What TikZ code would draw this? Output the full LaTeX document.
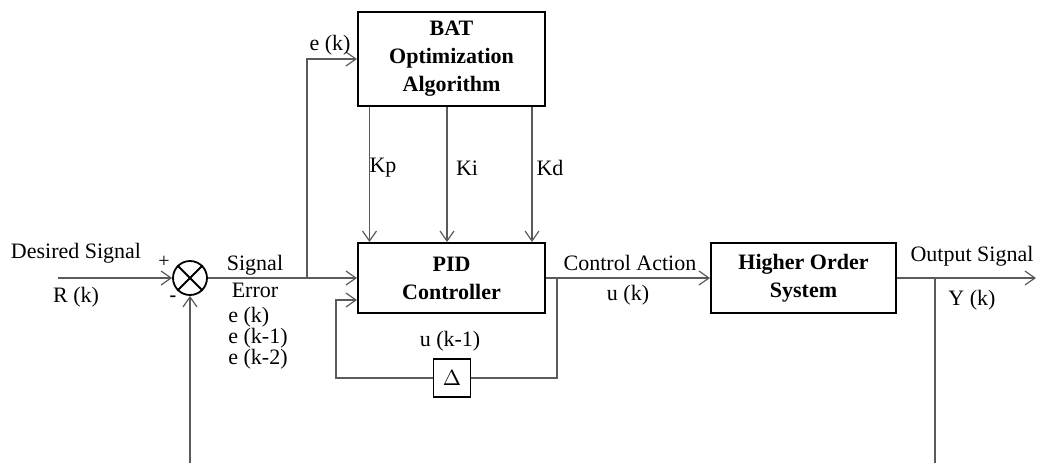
\documentclass[tikz,border=0pt]{standalone}
\usepackage{fontspec}
\setmainfont{Liberation Serif}
\usetikzlibrary{positioning, arrows.meta, calc}
\definecolor{wireGray}{HTML}{5A5A5A}

\begin{document}
\begin{tikzpicture}[x=0.5pt, y=-0.5pt,
  font=\fontsize{11}{14}\selectfont,
  blk/.style={draw, line width=1pt, align=center, font=\fontsize{11}{14}\selectfont\bfseries, minimum width=93.5pt, minimum height=35pt},
  wire/.style={draw=wireGray, line width=0.6pt},
  arr/.style={wire, -{Straight Barb[length=5pt, width=7pt]}},
  lbl/.style={inner sep=0pt}
]
\useasboundingbox (0,0) rectangle (1038,463);

% blocks
\node[blk, minimum height=47pt] (bat) at (451.5,59) {BAT\\Optimization\\Algorithm};
\node[blk] (pid) at (451.5,278) {PID\\Controller};
\node[blk, minimum width=92.5pt] (hos) at (803.5,278) {Higher Order\\System};
\node[draw, circle, line width=0.9pt, minimum size=17pt, inner sep=0pt] (sum) at (190,278) {};
\draw[line width=0.9pt] (sum.north west) -- (sum.south east) (sum.north east) -- (sum.south west);
\node[draw, line width=0.8pt, minimum width=18.5pt, minimum height=19pt, inner sep=0pt] (delta) at (452,378) {$\Delta$};

% free ends and branch points
\coordinate (rin) at (58,278);
\coordinate (esplit) at (307,278);
\coordinate (usplit) at (557,278);
\coordinate (loop) at (336,300);
\coordinate (yout) at (1036,278);
\coordinate (ysplit) at (935,278);
\coordinate (ybot) at (935,463);
\coordinate (sbot) at (190,463);

% connectors
\draw[arr] (rin) -- (sum.west);
\draw[arr] (sum.east) -- (pid.west);
\draw[arr] (esplit) |- (bat.west);
\draw[arr] ([xshift=-41pt]bat.south) -- ([xshift=-41pt]pid.north);
\draw[arr] ([xshift=-2.25pt]bat.south) -- ([xshift=-2.25pt]pid.north);
\draw[arr] ([xshift=40.25pt]bat.south) -- ([xshift=40.25pt]pid.north);
\draw[arr] (pid.east) -- (hos.west);
\draw[wire] (usplit) |- (delta.east);
\draw[arr] (delta.west) -| (loop) -- (loop -| pid.west);
\draw[arr] (hos.east) -- (yout);
\draw[wire] (ysplit) -- (ybot);
\draw[arr] (sbot) -- (sum.south);

% labels
\node[lbl] (desired) at (76,253) {Desired Signal};
\node[lbl] (rk) at (76,297) {R (k)};
\node[lbl, font=\fontsize{10}{10}\selectfont] (plus) at (164,262) {+};
\node[lbl, font=\fontsize{10}{10}\selectfont\bfseries] (minus) at (173,299) {-};
\node[lbl, align=center] (sigerr) at (255,276) {Signal\\[-0.5pt]Error};
\node[lbl, align=left, anchor=west, font=\fontsize{11}{10.5}\selectfont] (elist) at (228,338) {e (k)\\e (k-1)\\e (k-2)};
\node[lbl] (ek) at (330,45) {e (k)};
\node[lbl] (kp) at (383,168) {Kp};
\node[lbl] (ki) at (467,168) {Ki};
\node[lbl] (kd) at (550,168) {Kd};
\node[lbl] (ukm) at (450,341) {u (k-1)};
\node[lbl] (ctrl) at (630,263) {Control Action};
\node[lbl] (uk) at (628,295) {u (k)};
\node[lbl] (outsig) at (972,256) {Output Signal};
\node[lbl] (yk) at (972,300) {Y (k)};
\end{tikzpicture}
\end{document}
